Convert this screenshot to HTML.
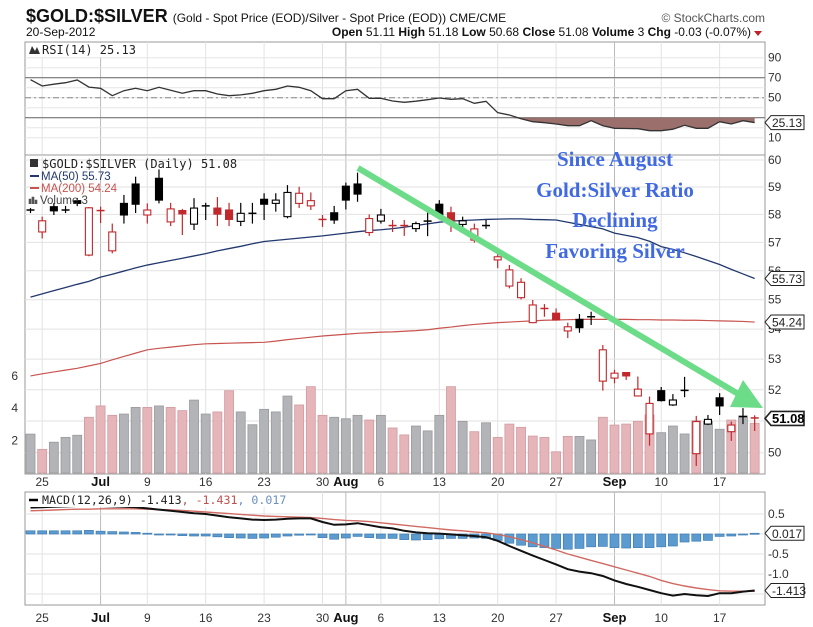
<!DOCTYPE html>
<html><head><meta charset="utf-8"><style>
html,body{margin:0;padding:0;background:#fff;}
svg{display:block;font-family:"Liberation Sans",sans-serif;}
</style></head><body>
<svg id="chart" width="813" height="627" viewBox="0 0 813 627" xmlns="http://www.w3.org/2000/svg">
<g id="hdr">
<text x="26" y="22" font-size="18" font-weight="bold" fill="#111">$GOLD:$SILVER <tspan font-size="12" font-weight="normal">(Gold - Spot Price (EOD)/Silver - Spot Price (EOD)) CME/CME</tspan></text>
<text x="26" y="36" font-size="12" fill="#111">20-Sep-2012</text>
<text x="751" y="36" font-size="12" fill="#111" text-anchor="end"><tspan font-weight="bold">Open</tspan> 51.11 <tspan font-weight="bold">High</tspan> 51.18 <tspan font-weight="bold">Low</tspan> 50.68 <tspan font-weight="bold">Close</tspan> 51.08 <tspan font-weight="bold">Volume</tspan> 3 <tspan font-weight="bold">Chg</tspan> -0.03 (-0.07%)</text>
<polygon points="754,31 762,31 758,36" fill="#c0202a"/>
<text x="765" y="22" font-size="12" fill="#555" text-anchor="end">© StockCharts.com</text>
</g>
<g id="grid"></g>
<g id="rsi"></g>
<g id="main"></g>
<g id="macd"></g>
<g id="axes"></g>
<g id="anno">
<line x1="358" y1="168" x2="740" y2="395" stroke="#6cdc88" stroke-width="6"/>
<polygon points="743,380 730,407 763,408" fill="#6cdc88"/>
<g font-family="Liberation Serif, serif" font-weight="bold" font-size="21" fill="#4169e1" text-anchor="middle">
<text x="615" y="166">Since August</text>
<text x="615" y="197">Gold:Silver Ratio</text>
<text x="615" y="227">Declining</text>
<text x="615" y="258">Favoring Silver</text>
</g>
</g>
</svg>
<script>
const opens  =[58.16,57.37,58.28,58.16,58.50,56.55,58.14,56.70,58.40,59.11,57.98,59.32,57.73,58.14,57.65,58.31,58.23,58.16,57.75,58.04,58.55,58.40,57.92,58.40,58.31,57.82,58.06,59.03,59.11,57.35,57.76,57.60,57.60,57.49,57.76,58.37,58.06,57.64,57.08,57.60,56.38,55.47,55.07,54.22,54.70,54.54,53.94,54.33,54.42,52.28,52.38,52.56,51.80,50.59,51.97,51.51,51.98,49.97,50.90,51.74,50.66,51.14,51.11];
const highs  =[58.23,57.92,58.41,58.31,58.60,58.27,58.28,57.67,58.71,59.38,58.40,59.65,58.42,58.20,58.59,58.42,58.63,58.42,58.42,58.42,58.77,58.77,59.07,59.01,58.80,57.98,58.31,59.16,59.53,58.00,58.20,57.80,57.80,57.74,58.16,58.52,58.28,57.92,57.67,57.80,56.67,56.20,55.74,54.99,54.85,54.70,54.22,54.51,54.59,53.47,52.65,52.56,52.43,51.78,52.09,51.86,52.42,51.16,51.19,51.89,50.98,51.41,51.18];
const lows   =[58.05,57.14,57.98,58.05,58.30,56.51,57.69,56.61,57.67,58.05,57.67,58.40,57.58,57.26,57.44,57.80,57.58,57.58,57.58,57.67,57.80,58.10,57.86,58.23,58.16,57.55,57.66,58.18,58.46,57.23,57.67,57.37,57.23,57.37,57.22,57.92,57.37,57.49,56.99,57.48,56.09,55.39,55.01,54.20,54.42,54.29,53.70,53.88,54.14,51.97,52.21,52.32,51.78,50.22,51.62,51.48,51.76,49.59,50.87,51.19,50.37,50.90,50.68];
const closes =[58.16,57.77,58.13,58.16,58.40,58.24,58.14,57.37,57.98,58.37,58.16,58.52,58.20,58.02,58.23,58.31,58.01,57.82,58.04,58.04,58.37,58.52,58.80,58.77,58.50,57.82,57.80,58.52,58.74,57.85,57.98,57.60,57.60,57.67,57.76,57.98,57.76,57.77,57.48,57.60,56.49,56.03,55.60,54.82,54.70,54.31,54.08,54.05,54.42,53.31,52.54,52.45,52.02,51.56,51.65,51.67,51.98,50.98,51.05,51.48,50.87,51.14,51.08];
const upDown ="krkkkrrrkkrkrrkkrrkkkkkrrrkkkrkrrkkkrkrkrrrrrrrkkrrrrrkkkrkkrkr";
const volumes=[2.4,1.46,1.9,2.2,2.33,3.44,4.14,3.56,3.64,4.05,4.05,4.14,4.05,3.85,4.5,3.64,3.77,5.08,3.77,2.98,3.93,3.77,4.75,4.2,5.33,3.56,3.44,3.35,3.56,3.27,3.56,2.78,2.35,2.9,2.6,3.56,5.33,3.19,2.55,3.1,2.2,3.02,2.82,2.28,2.2,1.31,2.26,2.26,2.04,3.44,2.96,3.02,3.19,3.58,2.49,2.9,2.41,3.23,3.19,2.7,3.27,3.52,3.07];
const ma50 =[55.09,55.20,55.31,55.42,55.53,55.63,55.78,55.88,55.99,56.10,56.20,56.28,56.36,56.44,56.52,56.60,56.70,56.78,56.86,56.95,57.03,57.07,57.11,57.15,57.19,57.23,57.28,57.33,57.38,57.42,57.45,57.49,57.54,57.60,57.66,57.72,57.76,57.78,57.80,57.82,57.83,57.84,57.84,57.82,57.81,57.80,57.72,57.64,57.56,57.48,57.33,57.25,57.17,57.04,56.85,56.75,56.63,56.50,56.36,56.22,56.05,55.89,55.73];
const ma200=[52.45,52.52,52.58,52.64,52.70,52.78,52.86,52.98,53.09,53.20,53.31,53.36,53.40,53.44,53.48,53.51,53.52,53.53,53.54,53.55,53.56,53.60,53.65,53.69,53.73,53.77,53.80,53.83,53.86,53.88,53.90,53.91,53.93,53.95,53.98,54.03,54.07,54.12,54.16,54.19,54.22,54.24,54.26,54.28,54.30,54.31,54.32,54.33,54.33,54.33,54.33,54.33,54.32,54.32,54.31,54.31,54.30,54.30,54.29,54.28,54.27,54.26,54.24];
const rsi =[68.0,61.7,63.5,65,67.7,60.6,59.4,52,57,59.4,57,60.4,57.5,54.5,57,57,53.7,52,52.8,54.4,57,58.4,61.7,60.4,57,49,49,57,58.4,49.4,49.4,46.7,45.4,46.5,48,49.7,48.4,49,44.4,46.4,35,32.7,29,26,25,23.7,22,22,27,22,19.4,19.2,19,17,17,18.5,22.4,19.4,19.4,26,23.7,27,25.13];
const macdLine=[0.66,0.67,0.68,0.69,0.70,0.71,0.70,0.69,0.68,0.67,0.64,0.61,0.58,0.55,0.52,0.50,0.46,0.42,0.39,0.36,0.35,0.36,0.38,0.39,0.39,0.30,0.23,0.24,0.27,0.22,0.17,0.14,0.08,0.04,0.02,0.01,-0.01,-0.03,-0.05,-0.08,-0.17,-0.30,-0.42,-0.54,-0.65,-0.76,-0.88,-0.94,-0.98,-1.05,-1.16,-1.25,-1.32,-1.40,-1.48,-1.54,-1.50,-1.53,-1.55,-1.48,-1.48,-1.44,-1.413];
const signalLine=[0.58,0.59,0.60,0.61,0.62,0.62,0.63,0.63,0.63,0.63,0.62,0.61,0.60,0.59,0.57,0.55,0.53,0.51,0.49,0.47,0.45,0.44,0.43,0.42,0.41,0.39,0.36,0.34,0.33,0.31,0.28,0.25,0.22,0.19,0.16,0.13,0.10,0.08,0.05,0.03,-0.01,-0.07,-0.14,-0.22,-0.31,-0.40,-0.50,-0.58,-0.66,-0.74,-0.82,-0.90,-0.98,-1.06,-1.16,-1.24,-1.30,-1.35,-1.39,-1.42,-1.43,-1.43,-1.431];
const dateIdx =[1,6,10,15,20,25,27,30,35,40,45,50,54,59];
const dateText=["25","Jul","9","16","23","30","Aug","6","13","20","27","Sep","10","17"];
const priceTicks=[60,59,58,57,56,55,54,53,52,51,50];
const volTicks=[6,4,2];
const rsiTicks=[90,70,50,10];
const macdTicks=[0.5,-0.5,-1.0];

const NS="http://www.w3.org/2000/svg";
const L=25,R=765;
const xI=i=>30.5+i*11.68;
const yP=p=>160+1605.6*Math.log(60/p);
const yV=v=>473-v*16.2;
const yR=v=>97.7-(v-50);
const yM=v=>534-v*40;
function mk(parent,tag,attrs,txt){const e=document.createElementNS(NS,tag);for(const k in attrs)e.setAttribute(k,attrs[k]);if(txt!==undefined)e.textContent=txt;parent.appendChild(e);return e;}
const G=id=>document.getElementById(id);
const grid=G('grid'),rsiG=G('rsi'),mainG=G('main'),macdG=G('macd'),axes=G('axes');

// panel frames & grids
const panels=[[42,155],[155,474],[492,605]];
panels.forEach((p,k)=>{
  const r=mk(grid,'rect',{x:L,y:p[0],width:R-L,height:p[1]-p[0],fill:'#fff',stroke:'#999','stroke-width':1});
  
  
  dateIdx.forEach((d,j)=>{
    const major=/[A-Za-z]/.test(dateText[j]);
    const l=mk(grid,'line',{x1:xI(d),x2:xI(d),y1:p[0],y2:p[1],stroke:major?'#bbb':'#e2e2e2','stroke-width':1});
    
    
  });
});
// RSI horizontal
for(let v=10;v<=90;v+=10){
  const l=mk(grid,'line',{x1:L,x2:R,y1:yR(v),y2:yR(v),stroke:'#e6e6e6'});
  
  
}
[70,30].forEach(v=>{const l=mk(rsiG,'line',{x1:L,x2:R,y1:yR(v),y2:yR(v),stroke:'#777','stroke-width':1.2});
  
  });
{const l=mk(rsiG,'line',{x1:L,x2:R,y1:yR(50),y2:yR(50),stroke:'#888','stroke-dasharray':'6,3,2,3'});
 
 }
// RSI oversold fill
{let d='M'+xI(0)+','+yR(30);rsi.forEach((v,i)=>{d+=' L'+xI(i)+','+yR(Math.min(v,30));});d+=' L'+xI(rsi.length-1)+','+yR(30)+' Z';
 const f=mk(rsiG,'path',{d:d,fill:'#9b6f6b',stroke:'none'});
 
 }
{const pl=mk(rsiG,'polyline',{points:rsi.map((v,i)=>xI(i)+','+yR(v)).join(' '),fill:'none',stroke:'#333','stroke-width':1.3});
 
 }
// price horizontal grid
priceTicks.forEach(p=>{const l=mk(grid,'line',{x1:L,x2:R,y1:yP(p),y2:yP(p),stroke:'#e2e2e2'});
  
  });
// MACD grid
[0.5,0,-0.5,-1.0,-1.5].forEach(v=>{const l=mk(grid,'line',{x1:L,x2:R,y1:yM(v),y2:yM(v),stroke:'#e2e2e2'});
  
  });

// volume bars
volumes.forEach((v,i)=>{
  const red=upDown[i]==='r';
  const b=mk(mainG,'rect',{x:xI(i)-4.5,y:yV(v),width:9,height:yV(0)-yV(v),fill:red?'#e6b5b9':'#b3b4b8',stroke:red?'#cf9ca1':'#9a9a9e','stroke-width':0.8});
  
  
});
// MAs
{const pl=mk(mainG,'polyline',{points:ma50.map((v,i)=>xI(i)+','+yP(v)).join(' '),fill:'none',stroke:'#22386e','stroke-width':1.3});
 
 }
{const pl=mk(mainG,'polyline',{points:ma200.map((v,i)=>xI(i)+','+yP(v)).join(' '),fill:'none',stroke:'#c8534f','stroke-width':1.2});
 
 }
// candles
closes.forEach((c,i)=>{
  const o=opens[i],col=upDown[i]==='r'?'#c0282c':'#000',x=xI(i);
  const g=mk(mainG,'g',{});
  
  
  mk(g,'line',{x1:x,x2:x,y1:yP(highs[i]),y2:yP(lows[i]),stroke:col,'stroke-width':1.2});
  const top=yP(Math.max(o,c)),bot=yP(Math.min(o,c));
  if(bot-top<1.5){mk(g,'line',{x1:x-4,x2:x+4,y1:(top+bot)/2,y2:(top+bot)/2,stroke:col,'stroke-width':1.5});}
  else{const hollow=c>o;mk(g,'rect',{x:x-3.5,y:top,width:7,height:bot-top,fill:hollow?'#fff':col,stroke:col,'stroke-width':1.1});}
});
// MACD histogram + lines
macdLine.forEach((m,i)=>{
  const h=m-signalLine[i];
  const y0=yM(0),y1=yM(h);
  const b=mk(macdG,'rect',{x:xI(i)-4.5,y:Math.min(y0,y1),width:9,height:Math.max(1,Math.abs(y1-y0)),fill:'#5b9bd0',stroke:'#3f7db3','stroke-width':0.7});
  
  
});
{const pl=mk(macdG,'polyline',{points:signalLine.map((v,i)=>xI(i)+','+yM(v)).join(' '),fill:'none',stroke:'#d06a62','stroke-width':1.4});
 
 }
{const pl=mk(macdG,'polyline',{points:macdLine.map((v,i)=>xI(i)+','+yM(v)).join(' '),fill:'none',stroke:'#111','stroke-width':2});
 
 }

// legends
function legend(x,y,w,h,name){const r=mk(axes,'rect',{x:x,y:y,width:w,height:h,fill:'#fff'});}
legend(27,43,110,14,'rsi-legend');
{const t=mk(axes,'text',{x:42,y:54,'font-size':12,'font-family':'DejaVu Sans Mono, monospace',fill:'#222'},'RSI(14) 25.13');
 
 
 const ic=mk(axes,'path',{d:'M29,54 L32,46 L35,51 L37,47 L40,54 Z',fill:'#333'});
 
 }
{const t=mk(axes,'text',{x:42,y:168,'font-size':12,'font-family':'DejaVu Sans Mono, monospace',fill:'#222'},'$GOLD:$SILVER (Daily) 51.08');
 
 
 const ic=mk(axes,'rect',{x:30,y:159,width:8,height:8,fill:'#333'});
 
 }
[['MA(50) 55.73','#22386e',180,'ma50-legend'],['MA(200) 54.24','#c8534f',192,'ma200-legend']].forEach(a=>{
  const l=mk(axes,'line',{x1:30,x2:39,y1:a[2]-4,y2:a[2]-4,stroke:a[1],'stroke-width':2});
  
  
  const t=mk(axes,'text',{x:41,y:a[2],'font-size':11.5,fill:a[1]},a[0]);
  
  
});
{const ic=mk(axes,'path',{d:'M29,204 v-5 h2 v5 M32,204 v-7 h2 v7 M35,204 v-4 h2 v4',fill:'#555',stroke:'#555','stroke-width':0.6});
 
 
 const t=mk(axes,'text',{x:40,y:204,'font-size':11.5,fill:'#444'},'Volume 3');
 
 }
legend(26,493,262,14,'macd-legend');
{const l=mk(axes,'line',{x1:29,x2:38,y1:500,y2:500,stroke:'#000','stroke-width':2.5});
 
 
 const t=mk(axes,'text',{x:42,y:504,'font-size':11.6,'font-family':'DejaVu Sans Mono, monospace',fill:'#222'});
 
 
 mk(t,'tspan',{},'MACD(12,26,9) -1.413');mk(t,'tspan',{fill:'#c0504d'},', -1.431');mk(t,'tspan',{fill:'#6a8ec0'},', 0.017');}

// axis labels
function lab(x,y,s,name,anchor,extra){const t=mk(axes,'text',Object.assign({x:x,y:y,'font-size':12,fill:'#333','text-anchor':anchor||'start'},extra||{}),s);return t;}
rsiTicks.forEach(v=>lab(768,yR(v)+4,String(v),'rsi-tick-label'));
priceTicks.forEach(p=>lab(768,yP(p)+4,String(p),'price-tick-label'));
volTicks.forEach(v=>lab(18,yV(v)+4,String(v),'volume-tick-label','end'));
macdTicks.forEach(v=>lab(768,yM(v)+4,v.toFixed(1),'macd-tick-label'));
[486,622].forEach((y,k)=>{dateIdx.forEach((d,j)=>{
  const major=/[A-Za-z]/.test(dateText[j]);
  lab(xI(d),y,dateText[j],k?'macd-date-label':'date-label','middle',major?{'font-weight':'bold','font-size':13,fill:'#111'}:{});
});});
// value markers
function marker(y,s,name,bold){
  const p=mk(axes,'path',{d:`M765,${y} L771,${y-7} L804,${y-7} L804,${y+7} L771,${y+7} Z`,fill:'#fff',stroke:'#222','stroke-width':bold?1.6:1});
  
  
  lab(772,y+4.5,s,name+'-text','start',bold?{'font-weight':'bold','font-size':13,fill:'#000'}:{fill:'#222'});
}
marker(yR(rsi[rsi.length-1]),'25.13','rsi-value-marker');
marker(yP(ma50[ma50.length-1]),'55.73','ma50-value-marker');
marker(yP(ma200[ma200.length-1]),'54.24','ma200-value-marker');
marker(yP(closes[closes.length-1]),'51.08','close-value-marker',true);
marker(yM(macdLine[macdLine.length-1]-signalLine[signalLine.length-1]),'0.017','histogram-value-marker');
marker(yM(macdLine[macdLine.length-1]),'-1.413','macd-value-marker');
</script>
</body></html>
